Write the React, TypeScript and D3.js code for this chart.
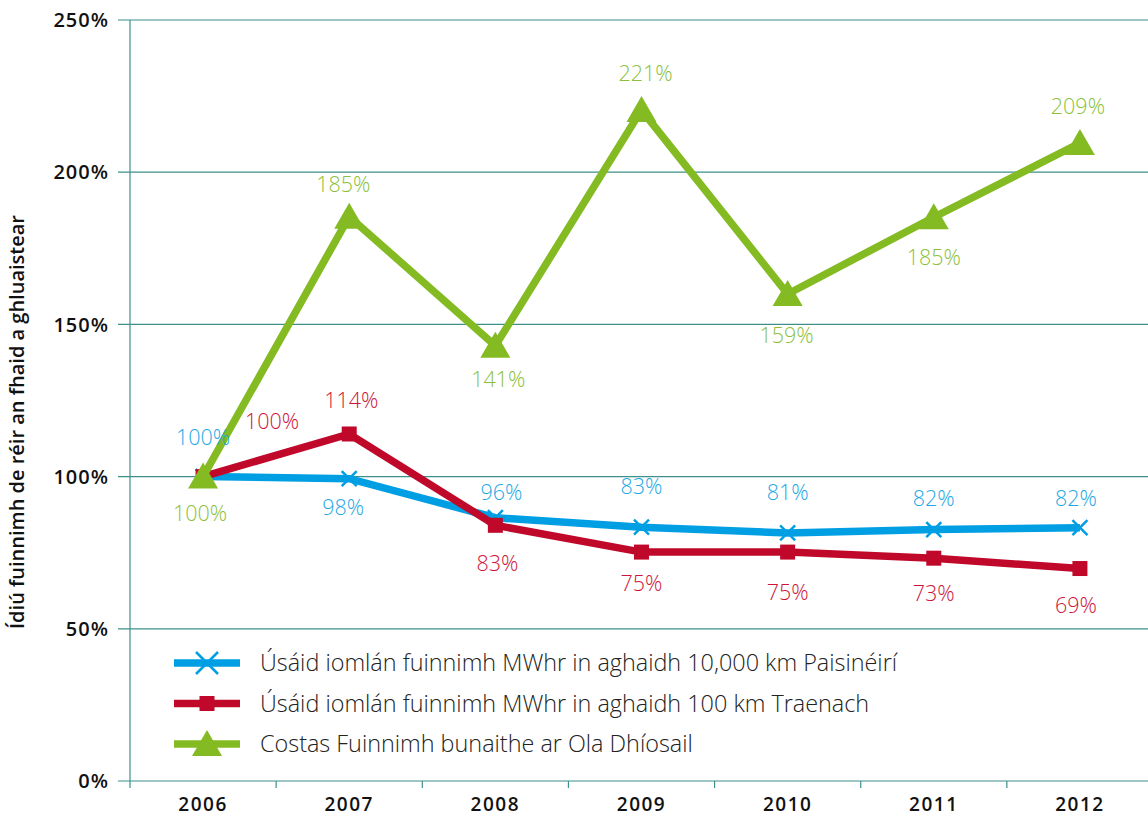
import React from 'react';
import * as d3 from 'd3';

const years = ['2006', '2007', '2008', '2009', '2010', '2011', '2012'];
const yTicks = [0, 50, 100, 150, 200, 250];

const carriageValues = [100, 99.3, 86.5, 83.4, 81.5, 82.6, 83.2];
const carriageLabels = ['100%', '98%', '96%', '83%', '81%', '82%', '82%'];
const trainValues = [100, 114, 84, 75.2, 75.2, 73.2, 69.8];
const trainLabels = ['100%', '114%', '83%', '75%', '75%', '73%', '69%'];
const costValues = [100, 185.4, 143, 220.4, 160, 185.2, 209.6];
const costLabels = ['100%', '185%', '141%', '221%', '159%', '185%', '209%'];

const seriesNames = [
  'Úsáid iomlán fuinnimh MWhr in aghaidh 10,000 km Paisinéirí',
  'Úsáid iomlán fuinnimh MWhr in aghaidh 100 km Traenach',
  'Costas Fuinnimh bunaithe ar Ola Dhíosail',
];

const W = 1148;
const H = 819;
const AXIS = '#3d8f8a';
const FONT = '"Open Sans", "DejaVu Sans", sans-serif';

type Marker = 'cross' | 'square' | 'triangle';

const series = [
  { name: seriesNames[0], values: carriageValues, labels: carriageLabels, color: '#009fe3', text: '#1ea8e4', marker: 'cross' as Marker,
    dy: [-39, 29, -25, -41, -41, -31, -29], dx: [0, -6, 6, 0, 0, 0, -4] },
  { name: seriesNames[1], values: trainValues, labels: trainLabels, color: '#c0082a', text: '#cf1439', marker: 'square' as Marker,
    dy: [-55, -34, 38, 31, 40, 35, 37], dx: [69, 2, 2, 0, 0, 0, -4] },
  { name: seriesNames[2], values: costValues, labels: costLabels, color: '#84bb23', text: '#8cbf3a', marker: 'triangle' as Marker,
    dy: [37, -32, 34, -37, 41, 40, -37], dx: [-3, -6, 3, 4, -1, 0, -2] },
];

const drawMarker = (m: Marker, x: number, y: number, color: string, key: string, big = false) => {
  if (m === 'cross') {
    const s = big ? 11 : 7.5;
    return (
      <g key={key} stroke={color} strokeWidth={2.5}>
        <line x1={x - s} y1={y - s} x2={x + s} y2={y + s} />
        <line x1={x - s} y1={y + s} x2={x + s} y2={y - s} />
      </g>
    );
  }
  if (m === 'square') {
    const s = 7.5;
    return <rect key={key} x={x - s} y={y - s} width={2 * s} height={2 * s} fill={color} />;
  }
  return <path key={key} d={`M${x},${y - 14}L${x + 15},${y + 12}L${x - 15},${y + 12}Z`} fill={color} />;
};

export default function App() {
  const x = d3.scaleBand().domain(years).range([130, 1153]);
  const y = d3.scaleLinear().domain([0, 250]).range([781, 20]);
  const cx = (i: number) => (x(years[i]) as number) + x.bandwidth() / 2;
  const line = d3.line<number>().x((_, i) => cx(i)).y(d => y(d));

  return (
    <svg width={W} height={H} style={{ position: 'absolute', left: 0, top: 0, background: '#fff' }}>
      {yTicks.map(t => (
        <g key={t}>
          <line x1={118} x2={W} y1={y(t)} y2={y(t)} stroke={AXIS} strokeWidth={1.2} />
          <text x={109} y={y(t)} dy="0.36em" textAnchor="end" fontFamily={FONT} fontWeight={600} fontSize={20} letterSpacing={1} fill="#111">{t}%</text>
        </g>
      ))}
      <line x1={130} x2={130} y1={20} y2={788} stroke={AXIS} strokeWidth={1.2} />
      {years.slice(1).map(yr => (
        <line key={yr} x1={x(yr)} x2={x(yr)} y1={781} y2={788} stroke={AXIS} strokeWidth={1.2} />
      ))}
      {years.map((yr, i) => (
        <text key={yr} x={cx(i)} y={811} textAnchor="middle" fontFamily={FONT} fontWeight={600} fontSize={19} letterSpacing={1.5} fill="#111">{yr}</text>
      ))}
      <text transform="translate(24,422) rotate(-90)" textAnchor="middle" fontFamily={FONT} fontWeight={600} fontSize={20} fill="#111">
        Ídiú fuinnimh de réir an fhaid a ghluaistear
      </text>

      {series.map(s => (
        <g key={s.name}>
          <path d={line(s.values) as string} fill="none" stroke={s.color} strokeWidth={7.5} strokeLinejoin="miter" />
          {s.values.map((v, i) => drawMarker(s.marker, cx(i), y(v), s.color, s.name + i))}
        </g>
      ))}
      {series.map(s => (
        <g key={s.name + 'lbl'}>
          {s.labels.map((l, i) => (
            <text key={i} x={cx(i) + s.dx[i]} y={y(s.values[i]) + s.dy[i]} dy="0.36em" textAnchor="middle"
              fontFamily={FONT} fontWeight={300} fontSize={21.5} fill={s.text}>{l}</text>
          ))}
        </g>
      ))}

      {series.map((s, i) => {
        const ly = 663 + i * 40.5;
        return (
          <g key={s.name + 'leg'}>
            <line x1={174} x2={240} y1={ly} y2={ly} stroke={s.color} strokeWidth={7.5} />
            {drawMarker(s.marker, 207, ly, s.color, 'm' + i, true)}
            <text x={260} y={ly} dy="0.36em" fontFamily={FONT} fontWeight={300} fontSize={23.4} fill="#222">{s.name}</text>
          </g>
        );
      })}
    </svg>
  );
}
